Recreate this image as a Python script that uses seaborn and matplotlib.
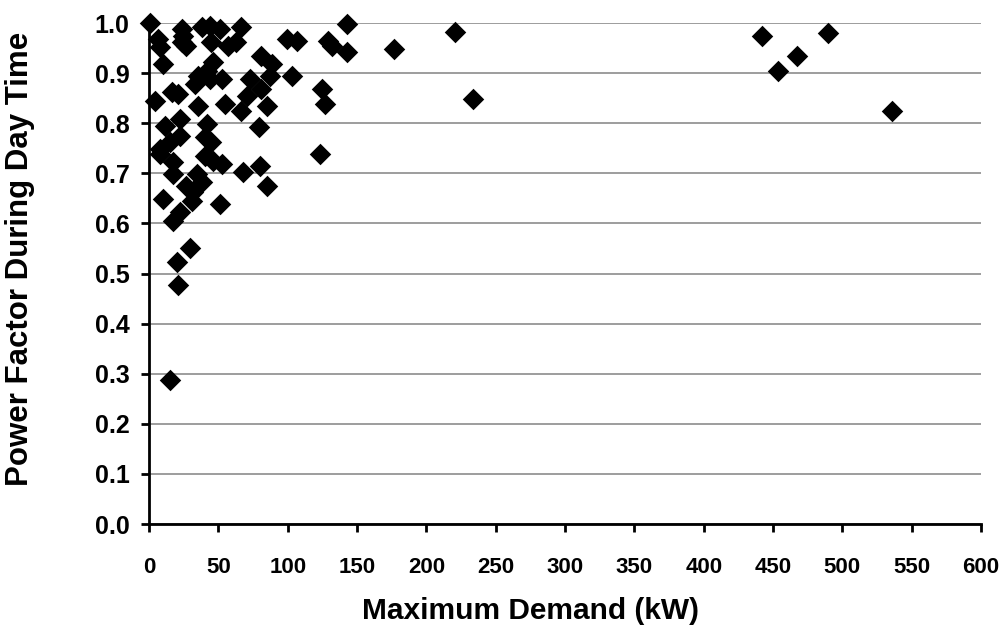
import pandas as pd
import matplotlib
matplotlib.use("Agg")
import matplotlib.pyplot as plt
import seaborn as sns

# Maximum demand (kW)
max_demand = [
    0.7, 6.5, 8, 10, 24, 24.5, 24, 27, 38, 44, 51, 45, 57, 63, 66, 46, 42, 35,
    33, 44, 52.6, 16.6, 21, 4.3, 35, 55, 66, 73, 81, 70.6, 85, 81, 87, 88.7,
    11.5, 22, 42, 79, 8, 15, 22, 40, 45, 8, 17, 40, 46, 52.6, 68, 80, 85, 17,
    34.6, 27, 38, 32, 31, 10, 51, 22, 17, 29.6, 20, 21, 15,
    143, 99.5, 107, 129, 132, 143, 177, 220.6, 233.6, 103, 125, 127, 123,
    442, 489.5, 467, 453.5, 536,
]

# Power factor during day time
power_factor = [
    1.0, 0.968, 0.952, 0.918, 0.988, 0.974, 0.962, 0.954, 0.992, 0.994, 0.988,
    0.962, 0.954, 0.962, 0.992, 0.922, 0.904, 0.894, 0.878, 0.888, 0.888,
    0.862, 0.858, 0.844, 0.834, 0.838, 0.824, 0.888, 0.868, 0.854, 0.834,
    0.934, 0.894, 0.918, 0.794, 0.808, 0.798, 0.792, 0.748, 0.762, 0.774,
    0.772, 0.762, 0.738, 0.722, 0.734, 0.724, 0.718, 0.702, 0.714, 0.674,
    0.698, 0.698, 0.674, 0.682, 0.662, 0.644, 0.648, 0.638, 0.622, 0.604,
    0.552, 0.524, 0.478, 0.288,
    0.998, 0.968, 0.964, 0.964, 0.954, 0.942, 0.948, 0.982, 0.848, 0.894,
    0.868, 0.838, 0.738,
    0.974, 0.98, 0.934, 0.904, 0.824,
]

x_ticks = list(range(0, 601, 50))
y_ticks = [i / 10 for i in range(0, 11)]

df = pd.DataFrame({"demand": max_demand, "pf": power_factor})

sns.set_style("white")
plt.rcParams["font.family"] = ["Liberation Sans", "DejaVu Sans"]
plt.rcParams["text.color"] = "black"
plt.rcParams["xtick.color"] = "black"
plt.rcParams["ytick.color"] = "black"
plt.rcParams["axes.labelcolor"] = "black"

fig = plt.figure(figsize=(10.03, 6.34), dpi=100)
ax = fig.add_axes([0.1486, 0.1735, 0.8295, 0.79])

sns.scatterplot(data=df, x="demand", y="pf", marker="D", color="black",
                s=120, edgecolor="black", linewidth=0, ax=ax, clip_on=False,
                zorder=3)

ax.set_xlim(0, 600)
ax.set_ylim(0, 1.0)
ax.set_xticks(x_ticks)
ax.set_yticks(y_ticks)
ax.set_xticklabels([str(t) for t in x_ticks], fontsize=16, fontweight="bold")
ax.set_yticklabels([f"{t:.1f}" for t in y_ticks], fontsize=18, fontweight="bold")
ax.yaxis.grid(True, color="#8c8c8c", linewidth=1.2)
ax.xaxis.grid(False)
ax.set_axisbelow(True)

for side in ["top", "right"]:
    ax.spines[side].set_visible(False)
for side in ["left", "bottom"]:
    ax.spines[side].set_color("black")
    ax.spines[side].set_linewidth(2)

ax.tick_params(axis="both", direction="out", length=6, width=2, color="black",
               bottom=True, left=True)
ax.tick_params(axis="x", pad=18)
ax.tick_params(axis="y", pad=8)

ax.set_xlabel("Maximum Demand (kW)", fontsize=21.5, fontweight="bold")
ax.set_ylabel("Power Factor During Day Time", fontsize=22.5, fontweight="bold")
ax.xaxis.set_label_coords(0.458, -0.146)
ax.yaxis.set_label_coords(-0.137, 0.529)

fig.savefig("out.png", dpi=100)
